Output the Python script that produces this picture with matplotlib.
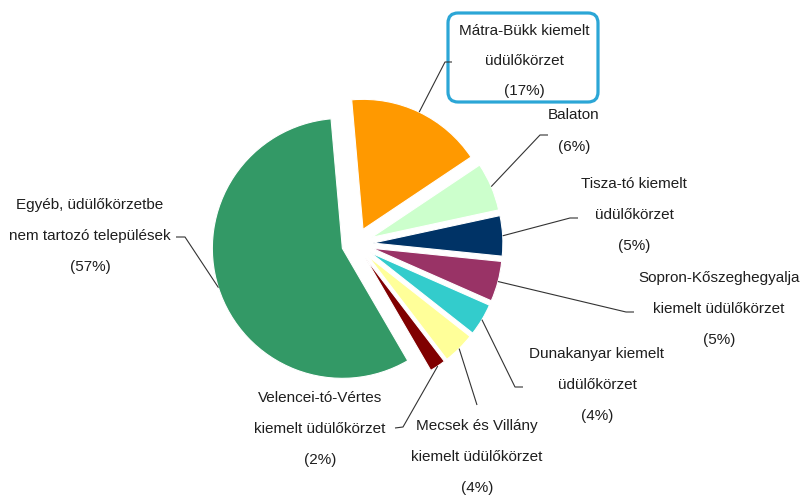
import matplotlib
matplotlib.use("Agg")
import matplotlib.pyplot as plt
import numpy as np
from matplotlib.patches import FancyBboxPatch

plt.rcParams['font.family'] = ['Liberation Sans', 'DejaVu Sans']

# ---- data ----
categories = [
    "Mátra-Bükk kiemelt\nüdülőkörzet",
    "Balaton",
    "Tisza-tó kiemelt\nüdülőkörzet",
    "Sopron-Kőszeghegyalja\nkiemelt üdülőkörzet",
    "Dunakanyar kiemelt\nüdülőkörzet",
    "Mecsek és Villány\nkiemelt üdülőkörzet",
    "Velencei-tó-Vértes\nkiemelt üdülőkörzet",
    "Egyéb, üdülőkörzetbe\nnem tartozó települések",
]
shares = [17, 6, 5, 5, 4, 4, 2, 57]
colors = ["#FF9900", "#CCFFCC", "#003366", "#993366",
          "#33CCCC", "#FFFF99", "#800000", "#339966"]
explode_frac = [0.125, 0.13, 0.13, 0.13, 0.13, 0.13, 0.13, 0.11]

W, H = 803, 496
fig = plt.figure(figsize=(W / 100, H / 100), dpi=100)
ax = fig.add_axes([0, 0, 1, 1])

def P(x, y):
    # image pixel coords -> data coords (y up)
    return (x, H - y)

R = 130
wedges, _ = ax.pie(shares, colors=colors, startangle=95, counterclock=False,
                   explode=[e * R for e in explode_frac], radius=R,
                   center=P(356, 244),
                   wedgeprops=dict(edgecolor="white", linewidth=0.8))
ax.set_xlim(0, W)
ax.set_ylim(0, H)
ax.set_aspect("equal")
ax.axis("off")

# label layout: (text center x, text block center y, leader path points in image coords)
layout = [
    (524, 61, [(445, 62), (452, 62)]),
    (574, 131, [(540, 135), (548, 135)]),
    (634, 215, [(570, 218), (578, 218)]),
    (719, 309, [(626, 312), (634, 312)]),
    (597, 385, [(515, 387), (523, 387)]),
    (477, 457, [(477, 405)]),
    (320, 429, [(403, 427), (395, 428)]),
    (90, 236, [(185, 237), (176, 237)]),
]
spacing = [2.45, 2.55, 2.55, 2.55, 2.55, 2.55, 2.55, 2.55]

txtcol = "#1e1e1e"
for w, cat, val, (tx, ty, path), ls in zip(wedges, categories, shares, layout, spacing):
    ang = np.deg2rad((w.theta1 + w.theta2) / 2)
    cx, cy = w.center
    start = (cx + w.r * np.cos(ang), cy + w.r * np.sin(ang))
    pts = [start] + [P(*p) for p in path]
    xs, ys = zip(*pts)
    ax.plot(xs, ys, color="#333333", lw=0.8, solid_capstyle="butt")
    text = f"{cat}\n({val}%)"
    ax.text(*P(tx, ty), text, ha="center", va="center", fontsize=11,
            color=txtcol, linespacing=ls)

# rounded highlight box around the Mátra-Bükk label
box = FancyBboxPatch(P(448, 102), 150, 89,
                     boxstyle="round,pad=0,rounding_size=10",
                     fc="none", ec="#2BA6D6", lw=2.3)
ax.add_patch(box)

fig.savefig("out.png", dpi=100)
